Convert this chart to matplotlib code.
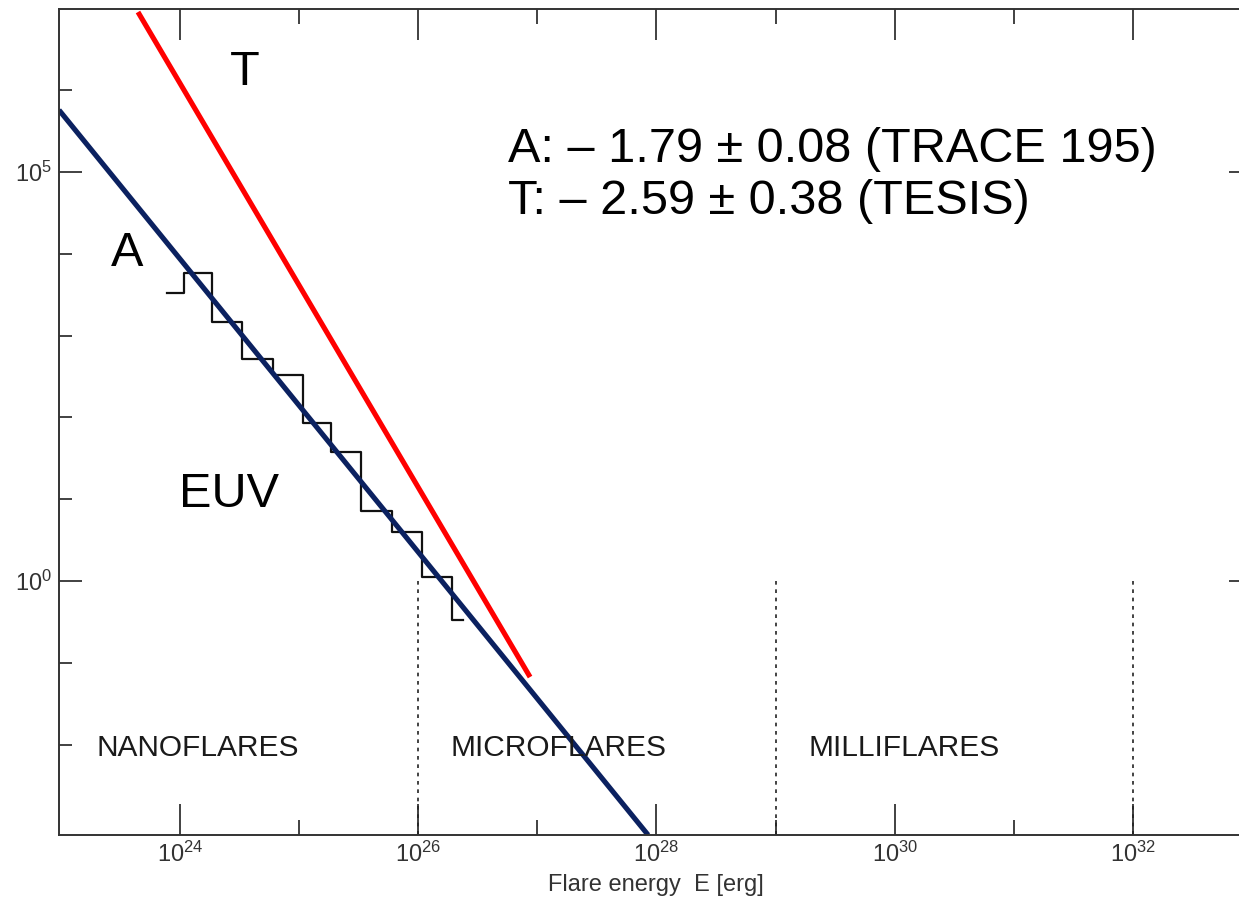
import numpy as np
import matplotlib
matplotlib.use("Agg")
import matplotlib.pyplot as plt
from matplotlib.ticker import NullFormatter, FixedLocator

plt.rcParams['font.family'] = ['Liberation Sans', 'DejaVu Sans']
plt.rcParams['mathtext.fontset'] = 'custom'
plt.rcParams['mathtext.rm'] = 'Liberation Sans'
plt.rcParams['mathtext.it'] = 'Liberation Sans'

# EUV histogram (log10 E bin edges, log10 N levels)
hist_edges = [23.89, 24.03, 24.27, 24.52, 24.78, 25.03, 25.27, 25.52, 25.78, 26.03, 26.28, 26.38]
hist_levels = [3.52, 3.77, 3.17, 2.72, 2.52, 1.93, 1.58, 0.85, 0.60, 0.05, -0.48]

# power-law fits, endpoints in log10
fit_A_logE = [22.984, 27.93]
fit_A_logN = [5.758, -3.105]
fit_T_logE = [23.647, 26.939]
fit_T_logN = [6.956, -1.174]

# class boundaries (log10 E) and region names
bounds = [26, 29, 32]
regions = ["NANOFLARES", "MICROFLARES", "MILLIFLARES"]
region_logE = [24.15, 27.18, 30.08]

fit_text = ["A: \u2013 1.79 \u00b1 0.08 (TRACE 195)",
            "T: \u2013 2.59 \u00b1 0.38 (TESIS)"]

W, H = 1239, 900
fig = plt.figure(figsize=(W / 100, H / 100), dpi=100)
ax = fig.add_axes([59 / W, (H - 835) / H, (1252 - 59) / W, (835 - 9) / H])
ax.set_xscale('log')
ax.set_yscale('log')
ax.set_xlim(10 ** 22.984, 1e33)
ax.set_ylim(10 ** -3.105, 10 ** 6.993)

# histogram
x = 10 ** np.array(hist_edges)
y = 10 ** np.array(hist_levels + [hist_levels[-1]])
ax.step(x, y, where='post', color='#111111', lw=1.6)

# fits
ax.plot(10 ** np.array(fit_T_logE), 10 ** np.array(fit_T_logN), color='#ff0000', lw=3.7,
        solid_capstyle='butt')
ax.plot(10 ** np.array(fit_A_logE), 10 ** np.array(fit_A_logN), color='#0b2160', lw=3.7,
        solid_capstyle='butt')

# boundaries
for b in bounds:
    ax.plot([10.0 ** b, 10.0 ** b], [1.0, 10 ** -3.105], color='#222222', lw=1.2,
            linestyle=(0, (2.2, 2.8)))

for name, le in zip(regions, region_logE):
    ax.text(10 ** le, 10 ** -2.04, name, fontsize=21.5, color='#1a1a1a', ha='center', va='center')

ax.text(10 ** 24.546, 10 ** 6.22, "T", fontsize=35, ha='center', va='center')
ax.text(10 ** 23.555, 10 ** 4.0, "A", fontsize=35, ha='center', va='center')
ax.text(10 ** 24.41, 10 ** 1.06, "EUV", fontsize=35, ha='center', va='center')

ax.text(10 ** 26.754, 10 ** 5.28, fit_text[0], fontsize=35, ha='left', va='center')
ax.text(10 ** 26.754, 10 ** 4.644, fit_text[1], fontsize=35, ha='left', va='center')

# ticks
ax.xaxis.set_major_locator(FixedLocator([1e24, 1e26, 1e28, 1e30, 1e32]))
ax.xaxis.set_minor_locator(FixedLocator([1e25, 1e27, 1e29, 1e31]))
ax.xaxis.set_major_formatter(plt.FuncFormatter(lambda v, p: r'$10^{%d}$' % round(np.log10(v))))
ax.xaxis.set_minor_formatter(NullFormatter())
ax.yaxis.set_major_locator(FixedLocator([1e0, 1e5]))
ax.yaxis.set_minor_locator(FixedLocator([10.0 ** k for k in range(-2, 7)]))
ax.yaxis.set_major_formatter(plt.FuncFormatter(lambda v, p: r'$10^{%d}$' % round(np.log10(v))))
ax.yaxis.set_minor_formatter(NullFormatter())

ax.tick_params(which='both', direction='in', top=True, right=True, color='#333333',
               labelcolor='#333333', labelsize=17)
ax.tick_params(axis='x', which='major', length=22, width=1.3, pad=5)
ax.tick_params(axis='x', which='minor', length=11, width=1.3)
ax.tick_params(axis='y', which='major', length=16.5, width=1.3, pad=5)
ax.tick_params(axis='y', which='minor', length=9.5, width=1.3)

for s in ax.spines.values():
    s.set_color('#333333')
    s.set_linewidth(1.4)

ax.set_xlabel("Flare energy  E [erg]", fontsize=17, color='#333333', labelpad=5)

fig.savefig("out.png", dpi=100)
